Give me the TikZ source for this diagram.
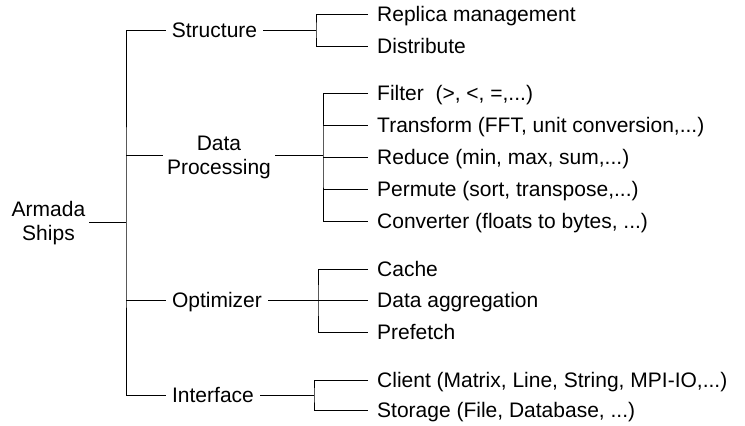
\documentclass[tikz,border=0pt]{standalone}
\usepackage{fontspec}
\setmainfont{Liberation Sans}
\tikzset{
  treefont/.style={font={\fontsize{21}{24}\selectfont}},
  leaf/.style={treefont, anchor=west, inner xsep=9pt, inner ysep=0pt,
    text height=15pt, text depth=0pt},
  branch/.style={treefont, inner xsep=6pt, inner ysep=0pt,
    text height=15pt, text depth=0pt},
  twoline/.style={treefont, align=center, inner xsep=4pt, inner ysep=0pt},
  link/.style={line width=1pt}
}
\begin{document}
\begin{tikzpicture}[x=1pt,y=-1pt]
        \useasboundingbox (0,0) rectangle (745,426);

        \node [twoline] (ships) at (48.5,223) {Armada\\Ships};
        \coordinate (trunk) at (126,222);

        \node [branch] (struct) at (214.5,30) {Structure};
        \node [twoline] (dproc) at (219,157) {Data\\Processing};
        \node [branch] (optim) at (217,300) {Optimizer};
        \node [branch] (iface) at (213,395) {Interface};

        \coordinate (jstruct) at (316,30);
        \coordinate (jdproc) at (323,155);
        \coordinate (joptim) at (318,300);
        \coordinate (jiface) at (314,395);

        \node [leaf] (replica) at (368,14) {Replica management};
        \node [leaf] (distrib) at (368,46) {Distribute};

        \node [leaf] (filter) at (368,93) {Filter~ (>, <, =,...)};
        \node [leaf] (transf) at (368,125) {Transform (FFT, unit conversion,...)};
        \node [leaf] (reduce) at (368,157) {Reduce (min, max, sum,...)};
        \node [leaf] (permute) at (368,189) {Permute (sort, transpose,...)};
        \node [leaf] (convert) at (368,221) {Converter (floats to bytes, ...)};

        \node [leaf] (cache) at (368,269) {Cache};
        \node [leaf] (aggreg) at (368,300) {Data aggregation};
        \node [leaf] (prefetch) at (368,332) {Prefetch};

        \node [leaf] (client) at (368,380) {Client (Matrix, Line, String, MPI-IO,...)};
        \node [leaf] (storage) at (368,410) {Storage (File, Database, ...)};

        \draw [link] (ships.east |- trunk) -- (trunk);
        \draw [link] (struct.west) -| (trunk) |- (iface.west);
        \draw [link] (trunk |- jdproc) -- (dproc.west |- jdproc);
        \draw [link] (trunk |- optim.west) -- (optim.west);

        \draw [link] (struct.east) -- (jstruct);
        \draw [link] (replica.west) -| (jstruct) |- (distrib.west);

        \draw [link] (dproc.east |- jdproc) -- (jdproc);
        \draw [link] (filter.west) -| (jdproc) |- (convert.west);
        \draw [link] (jdproc |- transf.west) -- (transf.west);
        \draw [link] (jdproc |- reduce.west) -- (reduce.west);
        \draw [link] (jdproc |- permute.west) -- (permute.west);

        \draw [link] (optim.east) -- (joptim);
        \draw [link] (cache.west) -| (joptim) |- (prefetch.west);
        \draw [link] (joptim) -- (aggreg.west);

        \draw [link] (iface.east) -- (jiface);
        \draw [link] (client.west) -| (jiface) |- (storage.west);
\end{tikzpicture}
\end{document}
